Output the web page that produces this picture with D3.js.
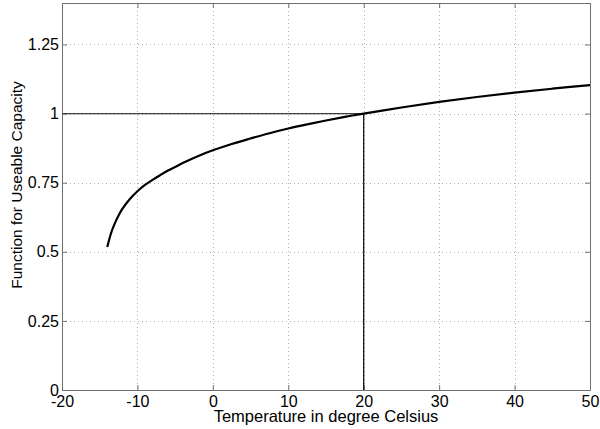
<!DOCTYPE html>
<html>
<head>
<meta charset="utf-8">
<script src="https://cdn.jsdelivr.net/npm/d3@7"></script>
<style>
  html, body { margin: 0; padding: 0; background: #fff; }
  svg { display: block; }
  text { font-family: "Liberation Sans", Arial, sans-serif; fill: #000; }
</style>
</head>
<body>
<svg id="chart" width="600" height="429"></svg>
<script>
// Temperature (°C) and the usable-capacity factor at that temperature
const temperature = [-14, -13.5, -13, -12.5, -12, -11, -10, -9, -8, -7, -6, -5, -4, -2, 0, 2.5, 5, 7.5, 10, 12.5, 15, 17.5, 20, 25, 30, 35, 40, 45, 50];
const capacity    = [0.517, 0.567, 0.603, 0.631, 0.655, 0.691, 0.719, 0.742, 0.760, 0.777, 0.793, 0.807, 0.821, 0.846, 0.867, 0.890, 0.910, 0.929, 0.946, 0.961, 0.975, 0.988, 1.000, 1.022, 1.042, 1.060, 1.076, 1.090, 1.103];

// Reference point: factor 1 at 20 °C
const refTemp = [20];
const refValue = [1];

const xTicks = [-20, -10, 0, 10, 20, 30, 40, 50];
const xTickLabels = ["-20", "-10", "0", "10", "20", "30", "40", "50"];
const yTicks = [0, 0.25, 0.5, 0.75, 1, 1.25];
const yTickLabels = ["0", "0.25", "0.5", "0.75", "1", "1.25"];

const xLabel = "Temperature in degree Celsius";
const yLabel = "Function for Useable Capacity";

const margin = { left: 62, right: 10, top: 3, bottom: 39 };
const W = 600, H = 429;
const svg = d3.select("#chart");

const x = d3.scaleLinear().domain([-20, 50]).range([margin.left, W - margin.right]);
const y = d3.scaleLinear().domain([0, 1.4]).range([H - margin.bottom, margin.top]);

const x0 = x.range()[0], x1 = x.range()[1];
const y0 = y.range()[0], y1 = y.range()[1];

// dotted grid
const grid = svg.append("g").attr("stroke", "#b0b0b0").attr("stroke-width", 1).attr("stroke-dasharray", "1,3");
grid.selectAll("line.gx").data(xTicks.filter(t => t > -20 && t < 50)).join("line")
  .attr("x1", d => Math.round(x(d)) + 0.5).attr("x2", d => Math.round(x(d)) + 0.5)
  .attr("y1", y1).attr("y2", y0);
grid.selectAll("line.gy").data(yTicks.filter(t => t > 0)).join("line")
  .attr("y1", d => Math.round(y(d)) + 0.5).attr("y2", d => Math.round(y(d)) + 0.5)
  .attr("x1", x0).attr("x2", x1);

// axes with inward ticks on all four sides
const tickLen = 5;
const fmtX = d => xTickLabels[xTicks.indexOf(d)];
const fmtY = d => yTickLabels[yTicks.indexOf(d)];
const axB = svg.append("g").attr("transform", `translate(0,${y0})`)
  .call(d3.axisBottom(x).tickValues(xTicks).tickFormat(fmtX).tickSizeInner(-tickLen).tickSizeOuter(0).tickPadding(6));
const axL = svg.append("g").attr("transform", `translate(${x0},0)`)
  .call(d3.axisLeft(y).tickValues(yTicks).tickFormat(fmtY).tickSizeInner(-tickLen).tickSizeOuter(0).tickPadding(3));
const axT = svg.append("g").attr("transform", `translate(0,${y1})`)
  .call(d3.axisTop(x).tickValues(xTicks).tickSizeInner(-tickLen).tickSizeOuter(0).tickFormat(""));
const axR = svg.append("g").attr("transform", `translate(${x1},0)`)
  .call(d3.axisRight(y).tickValues(yTicks).tickSizeInner(-tickLen).tickSizeOuter(0).tickFormat(""));

[axB, axL, axT, axR].forEach(g => {
  g.select(".domain").attr("stroke", "#707070");
  g.selectAll(".tick line").attr("stroke", "#707070");
  g.selectAll("text").attr("font-size", 16).attr("font-family", "'Liberation Sans', Arial, sans-serif").attr("fill", "#000");
});

// reference lines through (20, 1)
svg.append("line")
  .attr("x1", x0).attr("x2", x(refTemp[0]))
  .attr("y1", y(refValue[0])).attr("y2", y(refValue[0]))
  .attr("stroke", "#404040").attr("stroke-width", 1.2);
svg.append("line")
  .attr("x1", x(refTemp[0])).attr("x2", x(refTemp[0]))
  .attr("y1", y(refValue[0])).attr("y2", y0)
  .attr("stroke", "#000").attr("stroke-width", 1.2);

// capacity curve
const pts = temperature.map((t, i) => [t, capacity[i]]);
svg.append("path")
  .datum(pts)
  .attr("fill", "none")
  .attr("stroke", "#000")
  .attr("stroke-width", 2.2)
  .attr("stroke-linejoin", "round")
  .attr("d", d3.line().x(d => x(d[0])).y(d => y(d[1])).curve(d3.curveCatmullRom.alpha(0.5)));

// axis titles
svg.append("text")
  .attr("x", (x0 + x1) / 2).attr("y", 422)
  .attr("text-anchor", "middle").attr("font-size", 16.5)
  .text(xLabel);
svg.append("text")
  .attr("transform", `translate(22,185) rotate(-90)`)
  .attr("text-anchor", "middle").attr("font-size", 15.5)
  .text(yLabel);
</script>
</body>
</html>
